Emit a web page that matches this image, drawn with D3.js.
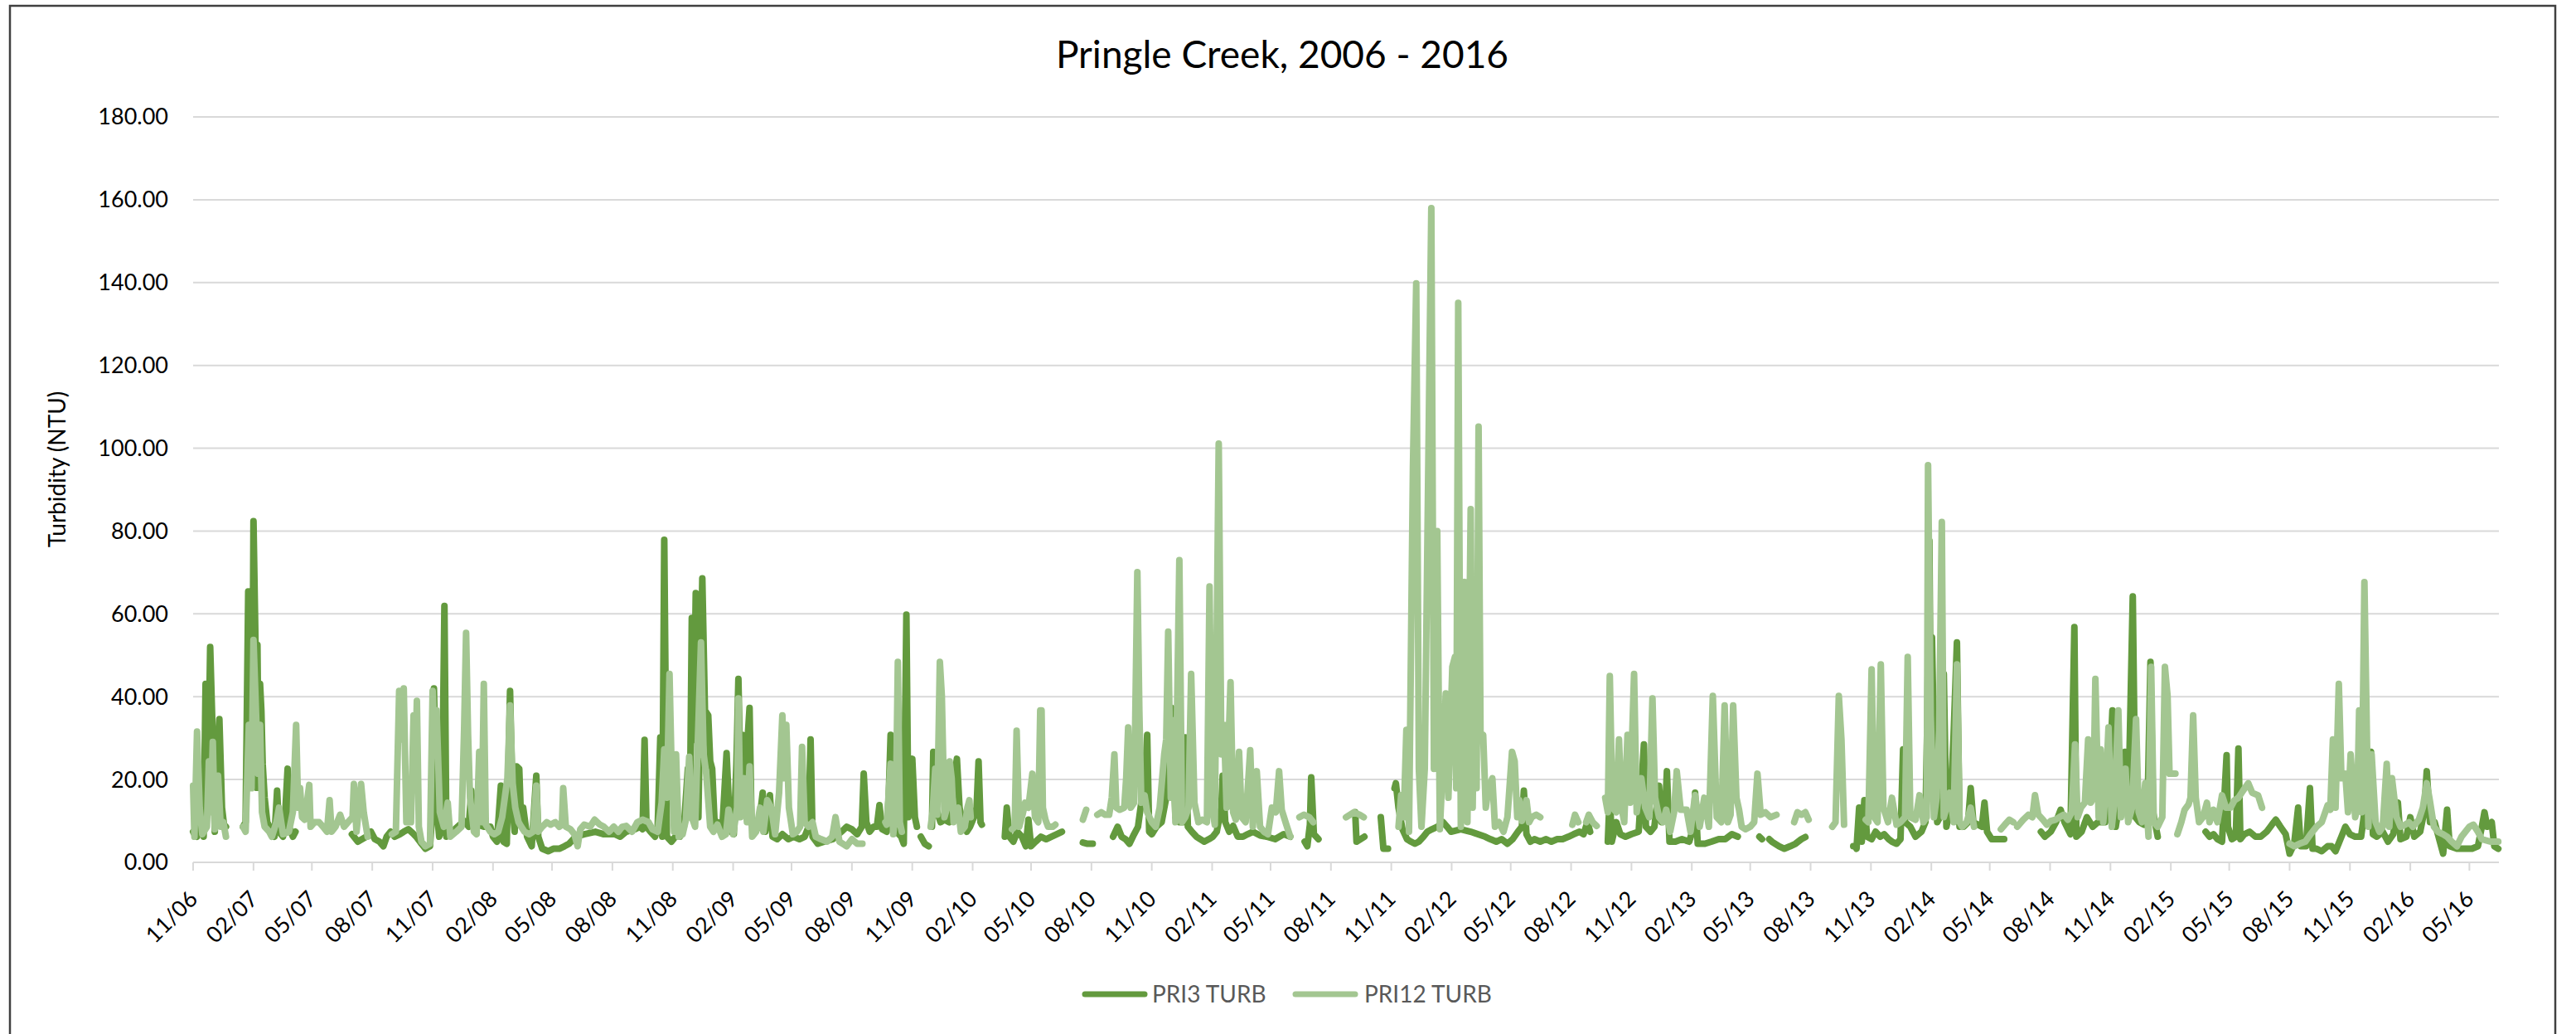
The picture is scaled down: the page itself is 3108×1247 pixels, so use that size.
<!DOCTYPE html>
<html><head><meta charset="utf-8">
<script src="https://cdn.jsdelivr.net/npm/d3@7"></script>
<style>html,body{margin:0;padding:0;background:#fff;}svg{display:block;}</style>
</head><body>
<svg id="chart" width="3108" height="1247"></svg>
<script>
const chartTitle = "Pringle Creek, 2006 - 2016";
const yAxisTitle = "Turbidity (NTU)";
const seriesNames = ["PRI3 TURB", "PRI12 TURB"];
const yTicks = [0, 20, 40, 60, 80, 100, 120, 140, 160, 180];
const xTickLabels = ["11/06","02/07","05/07","08/07","11/07","02/08","05/08","08/08","11/08","02/09","05/09","08/09","11/09","02/10","05/10","08/10","11/10","02/11","05/11","08/11","11/11","02/12","05/12","08/12","11/12","02/13","05/13","08/13","11/13","02/14","05/14","08/14","11/14","02/15","05/15","08/15","11/15","02/16","05/16"];
const xDomain = ["2006-11-01", "2016-06-15"];

// PRI3 TURB (null = no data / gap)
const pri3Turb = [
["2006-11-01",7.4],["2006-11-03",6.8],["2006-11-07",6.2],["2006-11-13",10.9],["2006-11-17",6.2],["2006-11-20",43.1],["2006-11-22",13],["2006-11-24",20],["2006-11-27",52],["2006-12-01",29.6],["2006-12-04",7.4],["2006-12-07",20.3],["2006-12-11",34.6],["2006-12-15",13.2],["2006-12-18",9.1],["2006-12-21",8.6],["2006-12-22",null],
["2007-01-16",8.6],["2007-01-20",9.7],["2007-01-24",65.4],["2007-01-27",41.4],["2007-01-30",23.8],["2007-02-01",82.4],["2007-02-04",53.1],["2007-02-06",18],["2007-02-07",52.5],["2007-02-09",18],["2007-02-11",43.1],["2007-02-13",36.7],["2007-02-15",23.8],["2007-02-18",15.6],["2007-02-22",9.7],["2007-03-01",7.4],["2007-03-05",6.2],["2007-03-09",17.3],["2007-03-12",7.4],["2007-03-18",6.2],["2007-03-21",10.9],["2007-03-25",22.6],["2007-03-27",8.6],["2007-04-02",6.2],["2007-04-06",7.4],["2007-04-08",null],
["2007-07-01",6.8],["2007-07-10",5.0],["2007-07-23",6.2],["2007-07-30",7.4],["2007-08-05",5.6],["2007-08-12",5.0],["2007-08-18",3.9],["2007-08-23",6.2],["2007-08-29",7.4],["2007-09-04",6.2],["2007-09-12",6.8],["2007-09-18",7.4],["2007-09-25",8],["2007-10-02",7],["2007-10-08",6],["2007-10-15",4.5],["2007-10-21",3.3],["2007-10-28",3.9],["2007-10-31",10.9],["2007-11-03",42],["2007-11-07",13.2],["2007-11-11",6.2],["2007-11-15",8],["2007-11-19",61.9],["2007-11-22",6.2],["2007-11-28",7],["2007-12-05",8],["2007-12-12",9],["2007-12-19",10],["2007-12-26",8.6],["2007-12-30",17.3],["2008-01-02",8.6],["2008-01-10",9],["2008-01-18",8.6],["2008-01-28",8.6],["2008-02-01",6.2],["2008-02-07",5.0],["2008-02-13",18.5],["2008-02-17",5.0],["2008-02-22",4.5],["2008-02-27",41.4],["2008-03-02",13.2],["2008-03-05",7.4],["2008-03-08",23.2],["2008-03-12",22.6],["2008-03-15",9],["2008-03-18",13.2],["2008-03-24",6.2],["2008-03-31",3.9],["2008-04-07",20.9],["2008-04-10",6.2],["2008-04-16",3.3],["2008-04-25",2.7],["2008-05-03",3.3],["2008-05-12",3.3],["2008-05-20",3.9],["2008-05-27",4.5],["2008-06-06",6.2],["2008-06-19",6.8],["2008-07-06",7.4],["2008-07-19",6.8],["2008-08-05",6.8],["2008-08-13",6.2],["2008-08-22",7.4],["2008-09-04",8],["2008-09-12",8.6],["2008-09-16",8],["2008-09-19",29.6],["2008-09-22",8.6],["2008-09-28",7.4],["2008-10-05",6.2],["2008-10-09",8.6],["2008-10-13",30.2],["2008-10-16",6.2],["2008-10-19",77.9],["2008-10-23",6.2],["2008-10-30",5],["2008-11-05",6.2],["2008-11-12",6.2],["2008-11-18",8.6],["2008-11-24",22.6],["2008-11-27",10.9],["2008-11-30",59],["2008-12-03",29.6],["2008-12-06",65],["2008-12-10",10.9],["2008-12-16",68.6],["2008-12-20",36.7],["2008-12-25",35.5],["2008-12-28",24.4],["2008-12-31",22.6],["2009-01-04",8.6],["2009-01-08",9.7],["2009-01-15",6.8],["2009-01-22",26.4],["2009-01-25",15.6],["2009-01-29",7.4],["2009-02-02",6.8],["2009-02-06",23.8],["2009-02-09",44.3],["2009-02-12",20.3],["2009-02-15",30.8],["2009-02-20",12.1],["2009-02-23",29.7],["2009-02-26",37.3],["2009-03-01",9.7],["2009-03-06",7.4],["2009-03-12",8.6],["2009-03-18",16.8],["2009-03-22",7.4],["2009-03-26",12.1],["2009-03-29",16.2],["2009-04-02",6.2],["2009-04-09",5.6],["2009-04-17",6.8],["2009-04-26",5.6],["2009-05-04",6.2],["2009-05-13",5.6],["2009-05-21",6.2],["2009-05-27",8.6],["2009-05-30",29.7],["2009-06-02",6.2],["2009-06-10",4.5],["2009-06-20",5],["2009-07-03",5.6],["2009-07-16",7.4],["2009-07-24",8.6],["2009-08-01",8],["2009-08-09",6.8],["2009-08-16",8.6],["2009-08-19",21.4],["2009-08-23",9.7],["2009-08-28",7.4],["2009-09-03",8.6],["2009-09-08",8.6],["2009-09-12",13.8],["2009-09-16",8],["2009-09-23",7.4],["2009-09-26",15.6],["2009-09-29",30.8],["2009-10-02",8.6],["2009-10-08",7.4],["2009-10-15",6.2],["2009-10-19",4.5],["2009-10-23",59.8],["2009-10-26",10.9],["2009-10-29",21.4],["2009-11-01",25],["2009-11-05",10.9],["2009-11-08",8.6],["2009-11-10",null],
["2009-11-14",6.2],["2009-11-20",4.5],["2009-11-26",3.9],["2009-11-28",null],
["2009-12-01",8.6],["2009-12-03",26.7],["2009-12-07",13.2],["2009-12-14",9.7],["2009-12-20",10.3],["2009-12-27",9.7],["2010-01-02",17.9],["2010-01-08",25],["2010-01-12",13.2],["2010-01-17",9.7],["2010-01-23",7.4],["2010-01-28",8.6],["2010-02-03",10.9],["2010-02-07",13.2],["2010-02-10",24.4],["2010-02-13",9.7],["2010-02-15",9.1],["2010-02-17",null],
["2010-03-22",6.2],["2010-03-25",13.2],["2010-03-29",6.2],["2010-04-04",5],["2010-04-10",7.4],["2010-04-17",6.2],["2010-04-23",3.9],["2010-04-27",10.3],["2010-05-01",3.9],["2010-05-08",5],["2010-05-16",6.2],["2010-05-24",5.6],["2010-06-01",6.2],["2010-06-09",6.8],["2010-06-17",7.4],["2010-06-19",null],
["2010-07-19",4.8],["2010-07-26",4.5],["2010-08-03",4.5],["2010-08-05",null],
["2010-09-03",6.2],["2010-09-10",8.6],["2010-09-16",6.2],["2010-09-22",5.6],["2010-09-28",4.5],["2010-10-05",6.8],["2010-10-11",8.6],["2010-10-17",15.6],["2010-10-21",17.9],["2010-10-25",30.8],["2010-10-28",7.4],["2010-11-01",6.8],["2010-11-08",8.6],["2010-11-16",9.7],["2010-11-23",15.6],["2010-11-27",26.1],["2010-12-01",37.3],["2010-12-07",10.9],["2010-12-12",9.7],["2010-12-18",9.7],["2010-12-22",30.2],["2010-12-26",8.6],["2011-01-01",7.4],["2011-01-08",6.2],["2011-01-14",5.6],["2011-01-20",5],["2011-01-27",5.6],["2011-02-02",6.2],["2011-02-08",7.4],["2011-02-15",13.2],["2011-02-17",20.9],["2011-02-21",9.7],["2011-02-27",7.4],["2011-03-05",8.8],["2011-03-12",6.2],["2011-03-20",6.2],["2011-03-27",6.8],["2011-04-04",7.4],["2011-04-15",6.5],["2011-04-25",6.2],["2011-05-08",5.6],["2011-05-21",6.8],["2011-05-31",6.2],["2011-06-02",null],
["2011-06-22",5],["2011-06-26",3.9],["2011-06-30",9.1],["2011-07-02",20.5],["2011-07-06",6.8],["2011-07-13",5.6],["2011-07-15",null],
["2011-09-07",12.1],["2011-09-09",5],["2011-09-15",5.6],["2011-09-21",6.2],["2011-09-23",null],
["2011-10-16",10.9],["2011-10-20",3.3],["2011-10-27",3.3],["2011-10-29",null],
["2011-11-06",17.9],["2011-11-08",19.1],["2011-11-12",13.2],["2011-11-18",8],["2011-11-25",5.6],["2011-12-01",5],["2011-12-07",4.5],["2011-12-13",5],["2011-12-20",6.2],["2011-12-26",7.4],["2012-01-02",8],["2012-01-10",8.6],["2012-01-19",9.7],["2012-01-25",8.6],["2012-01-31",7.4],["2012-02-15",8],["2012-03-01",7.4],["2012-03-23",6.2],["2012-03-31",5.6],["2012-04-09",5],["2012-04-17",5.6],["2012-04-26",4.5],["2012-05-04",5.6],["2012-05-12",7.4],["2012-05-18",8.6],["2012-05-21",17.3],["2012-05-25",6.8],["2012-05-31",5],["2012-06-06",5.6],["2012-06-15",5],["2012-06-24",5.6],["2012-07-02",5],["2012-07-11",5.6],["2012-07-19",5.6],["2012-07-28",6.2],["2012-08-05",6.8],["2012-08-14",7.4],["2012-08-20",6.8],["2012-08-26",9.7],["2012-08-30",7.4],["2012-09-01",null],
["2012-09-26",5],["2012-09-29",16.8],["2012-10-02",5],["2012-10-09",9.7],["2012-10-15",6.8],["2012-10-23",6.2],["2012-11-01",6.8],["2012-11-12",7.4],["2012-11-17",20.3],["2012-11-20",28.5],["2012-11-23",8.6],["2012-11-30",7.4],["2012-12-06",8.6],["2012-12-13",18.5],["2012-12-17",9.7],["2012-12-22",10.9],["2012-12-25",22],["2012-12-29",5],["2013-01-07",5],["2013-01-17",5.6],["2013-01-28",5],["2013-02-04",8.6],["2013-02-06",16.8],["2013-02-10",4.5],["2013-02-21",4.5],["2013-03-03",5],["2013-03-14",5.6],["2013-03-24",5.6],["2013-04-03",6.8],["2013-04-12",6.2],["2013-04-14",null],
["2013-05-15",6.2],["2013-05-19",5.6],["2013-05-21",null],
["2013-05-30",5.6],["2013-06-03",5],["2013-06-14",3.9],["2013-06-22",3.3],["2013-07-01",3.9],["2013-07-09",4.5],["2013-07-18",5.6],["2013-07-24",6.1],["2013-07-26",null],
["2013-10-05",3.9],["2013-10-08",3.9],["2013-10-10",3.3],["2013-10-14",13.2],["2013-10-18",5],["2013-10-22",15],["2013-10-26",6.2],["2013-11-02",5.6],["2013-11-08",7.4],["2013-11-15",6.2],["2013-11-21",6.8],["2013-11-28",5.6],["2013-12-03",5],["2013-12-10",4.5],["2013-12-16",5.6],["2013-12-20",27.3],["2013-12-23",9.7],["2013-12-31",8.6],["2014-01-08",6.2],["2014-01-17",7.4],["2014-01-23",9.7],["2014-01-26",35.5],["2014-01-29",77.7],["2014-01-31",35.5],["2014-02-02",54.3],["2014-02-06",19.1],["2014-02-10",9.7],["2014-02-14",10.9],["2014-02-20",45.5],["2014-02-24",8.6],["2014-03-02",13.2],["2014-03-07",30.8],["2014-03-12",53.1],["2014-03-16",8.6],["2014-03-22",8.6],["2014-03-29",9.7],["2014-04-02",17.9],["2014-04-06",9.7],["2014-04-13",9.1],["2014-04-19",8.6],["2014-04-23",14.4],["2014-04-27",7.4],["2014-05-04",5.6],["2014-05-12",5.6],["2014-05-23",5.6],["2014-05-25",null],
["2014-07-18",7.4],["2014-07-24",6.2],["2014-08-02",7.4],["2014-08-10",9.7],["2014-08-17",12.7],["2014-08-23",9.7],["2014-09-01",6.8],["2014-09-07",56.8],["2014-09-10",6.2],["2014-09-18",7.4],["2014-09-26",10.9],["2014-10-05",8.6],["2014-10-13",9.7],["2014-10-24",9.7],["2014-10-30",17.9],["2014-11-04",36.7],["2014-11-09",8.6],["2014-11-16",15.6],["2014-11-23",26.7],["2014-11-28",10.9],["2014-12-05",64.2],["2014-12-09",10.9],["2014-12-15",9.7],["2014-12-22",9.1],["2014-12-28",16.8],["2015-01-01",48.4],["2015-01-05",12.1],["2015-01-12",6.2],["2015-01-14",null],
["2015-03-26",7.4],["2015-04-01",6.2],["2015-04-07",6.8],["2015-04-13",5.6],["2015-04-20",5],["2015-04-27",25.9],["2015-04-29",8.6],["2015-05-05",5.6],["2015-05-11",6.2],["2015-05-15",27.5],["2015-05-18",5.6],["2015-05-24",6.8],["2015-06-01",7.4],["2015-06-10",6.2],["2015-06-18",6.2],["2015-06-27",7.4],["2015-07-05",9.1],["2015-07-11",10.3],["2015-07-18",8.6],["2015-07-26",6.8],["2015-08-01",2.1],["2015-08-08",4.5],["2015-08-14",13.2],["2015-08-18",3.9],["2015-08-26",3.9],["2015-09-01",17.9],["2015-09-05",3.3],["2015-09-11",3.3],["2015-09-19",2.7],["2015-09-28",3.9],["2015-10-04",3.9],["2015-10-10",2.7],["2015-10-19",6.2],["2015-10-25",8.6],["2015-11-01",6.8],["2015-11-09",6.2],["2015-11-18",6.2],["2015-11-26",15.6],["2015-12-03",26.7],["2015-12-06",6.8],["2015-12-12",6.2],["2015-12-21",7.4],["2015-12-29",5],["2016-01-06",6.8],["2016-01-13",14.4],["2016-01-17",5.6],["2016-01-26",6.2],["2016-02-01",10.9],["2016-02-07",6.2],["2016-02-16",7.4],["2016-02-22",12.1],["2016-02-26",22],["2016-03-02",9.7],["2016-03-09",9.7],["2016-03-15",6.2],["2016-03-22",2.1],["2016-03-28",12.7],["2016-04-01",3.9],["2016-04-12",3.3],["2016-04-25",3.3],["2016-05-05",3.3],["2016-05-14",3.9],["2016-05-20",8.6],["2016-05-24",12.1],["2016-05-28",8.6],["2016-06-04",9.7],["2016-06-08",3.9],["2016-06-14",3.3]
];

// PRI12 TURB (null = no data / gap)
const pri12Turb = [
["2006-11-01",18.5],["2006-11-03",6.2],["2006-11-07",31.6],["2006-11-11",13.2],["2006-11-15",6.8],["2006-11-22",8.6],["2006-11-25",24.4],["2006-11-28",12.1],["2006-12-01",29.1],["2006-12-04",8],["2006-12-09",20.9],["2006-12-13",8.6],["2006-12-17",9.7],["2006-12-21",6.2],["2006-12-22",null],
["2007-01-16",8.6],["2007-01-20",7.4],["2007-01-25",33.2],["2007-01-29",17.9],["2007-02-01",53.7],["2007-02-05",35.5],["2007-02-08",21.4],["2007-02-11",33.2],["2007-02-14",12.1],["2007-02-18",8.6],["2007-02-25",7.4],["2007-03-01",6.2],["2007-03-08",9.7],["2007-03-12",13.2],["2007-03-18",6.8],["2007-03-27",7.4],["2007-04-02",12.1],["2007-04-07",33.2],["2007-04-10",13.2],["2007-04-13",17.9],["2007-04-16",10.9],["2007-04-20",10.3],["2007-04-27",18.7],["2007-04-29",8.6],["2007-05-05",9.7],["2007-05-12",9.7],["2007-05-18",8.6],["2007-05-24",7.4],["2007-05-28",15],["2007-05-31",7.4],["2007-06-06",8.6],["2007-06-13",11.5],["2007-06-19",8.6],["2007-06-25",9.7],["2007-07-02",10.9],["2007-07-04",18.9],["2007-07-08",7.4],["2007-07-15",18.9],["2007-07-19",12.1],["2007-07-25",6.2],["2007-07-27",null],
["2007-08-31",6.8],["2007-09-06",7.4],["2007-09-11",41.4],["2007-09-15",29.7],["2007-09-18",42],["2007-09-22",9.7],["2007-09-29",9.7],["2007-10-03",35.5],["2007-10-05",19.1],["2007-10-08",39],["2007-10-11",8.6],["2007-10-15",5],["2007-10-21",3.9],["2007-10-28",4.5],["2007-11-01",41.4],["2007-11-04",29.7],["2007-11-07",36.7],["2007-11-12",12.1],["2007-11-18",8.6],["2007-11-24",14.4],["2007-11-28",6.2],["2007-12-07",7.4],["2007-12-15",8.6],["2007-12-19",32],["2007-12-22",55.4],["2007-12-25",30.8],["2007-12-28",15.6],["2008-01-03",7.4],["2008-01-07",6.8],["2008-01-11",26.7],["2008-01-15",9.7],["2008-01-18",43.1],["2008-01-21",9.1],["2008-01-28",7.4],["2008-02-03",6.8],["2008-02-09",7.4],["2008-02-15",10.9],["2008-02-19",15.6],["2008-02-23",20.3],["2008-02-27",37.9],["2008-03-02",19.1],["2008-03-06",13.2],["2008-03-11",9.7],["2008-03-15",8.6],["2008-03-20",7.4],["2008-03-27",6.8],["2008-04-02",7.4],["2008-04-07",18.5],["2008-04-10",7.4],["2008-04-16",8.6],["2008-04-23",9.7],["2008-04-29",9.1],["2008-05-06",9.7],["2008-05-12",8.6],["2008-05-16",9.1],["2008-05-18",17.9],["2008-05-22",8.6],["2008-05-29",8],["2008-06-04",6.8],["2008-06-09",3.9],["2008-06-13",8],["2008-06-19",9.1],["2008-06-28",8.6],["2008-07-05",10.3],["2008-07-13",9.1],["2008-07-19",8.6],["2008-07-27",7.4],["2008-08-03",8.6],["2008-08-10",7.4],["2008-08-16",8.6],["2008-08-22",8.8],["2008-08-31",7.4],["2008-09-08",9.7],["2008-09-16",10.3],["2008-09-25",9.7],["2008-10-01",8],["2008-10-09",7.4],["2008-10-15",14.4],["2008-10-19",27.3],["2008-10-23",15.6],["2008-10-27",45.5],["2008-10-30",23.8],["2008-11-03",7.4],["2008-11-06",26.1],["2008-11-10",6.2],["2008-11-16",6.8],["2008-11-21",10.3],["2008-11-26",25.5],["2008-11-30",10.9],["2008-12-05",8.6],["2008-12-10",33.2],["2008-12-14",53.1],["2008-12-18",26.1],["2008-12-22",21.4],["2008-12-28",8.6],["2009-01-02",7.4],["2009-01-08",9.1],["2009-01-15",6.2],["2009-01-21",6.8],["2009-01-25",12.7],["2009-02-01",6.8],["2009-02-07",13.2],["2009-02-09",39.6],["2009-02-12",10.9],["2009-02-18",20.3],["2009-02-22",9.7],["2009-02-26",23.2],["2009-03-02",6.2],["2009-03-08",7.4],["2009-03-14",13.2],["2009-03-19",7.4],["2009-03-25",15],["2009-03-31",13.2],["2009-04-06",6.8],["2009-04-12",16.8],["2009-04-17",35.5],["2009-04-20",20.3],["2009-04-23",33.2],["2009-04-27",13.2],["2009-05-03",6.8],["2009-05-09",7.4],["2009-05-14",8.6],["2009-05-17",27.9],["2009-05-21",9.7],["2009-05-27",8.6],["2009-06-02",9.7],["2009-06-07",6.2],["2009-06-15",5.6],["2009-06-24",5],["2009-07-02",6.2],["2009-07-07",10.9],["2009-07-13",5],["2009-07-24",3.9],["2009-08-01",5.6],["2009-08-09",4.5],["2009-08-17",4.5],["2009-08-19",null],
["2009-09-21",9.7],["2009-09-23",9.1],["2009-09-29",23.8],["2009-10-03",6.8],["2009-10-07",13.2],["2009-10-10",48.4],["2009-10-13",9.7],["2009-10-16",7.4],["2009-10-18",null],
["2009-11-29",8.6],["2009-12-02",12.1],["2009-12-06",22.6],["2009-12-09",11.5],["2009-12-13",48.4],["2009-12-16",40.2],["2009-12-20",10.9],["2009-12-24",13.2],["2009-12-28",24.4],["2009-12-31",20.3],["2010-01-03",9.7],["2010-01-10",13.2],["2010-01-14",7.4],["2010-01-20",8.6],["2010-01-24",13.2],["2010-01-27",15],["2010-01-29",10.9],["2010-01-31",null],
["2010-04-02",8],["2010-04-06",8.6],["2010-04-09",31.8],["2010-04-13",8.6],["2010-04-18",11.5],["2010-04-22",14.4],["2010-04-27",13.2],["2010-05-03",21.4],["2010-05-07",10.9],["2010-05-12",9.7],["2010-05-15",36.7],["2010-05-17",36.7],["2010-05-19",13.2],["2010-05-23",10.3],["2010-05-27",8.6],["2010-06-03",8.6],["2010-06-07",9.1],["2010-06-09",null],
["2010-07-19",10.3],["2010-07-24",12.7],["2010-07-26",null],
["2010-08-10",11.5],["2010-08-16",12.1],["2010-08-22",11.5],["2010-08-28",11.5],["2010-09-01",15.6],["2010-09-05",26.1],["2010-09-08",13.2],["2010-09-13",12.7],["2010-09-20",13.2],["2010-09-23",20.3],["2010-09-26",32.6],["2010-09-30",13.2],["2010-10-05",14.4],["2010-10-10",70.1],["2010-10-13",36.7],["2010-10-16",14.4],["2010-10-21",16.2],["2010-10-25",12.1],["2010-11-01",9.7],["2010-11-07",8.6],["2010-11-13",13.2],["2010-11-20",26.1],["2010-11-23",29.7],["2010-11-26",55.7],["2010-11-30",15.6],["2010-12-04",34.3],["2010-12-07",9.7],["2010-12-13",73],["2010-12-17",9.7],["2010-12-22",10.9],["2010-12-27",13.2],["2010-12-31",45.5],["2011-01-05",14.4],["2011-01-11",9.7],["2011-01-17",10.3],["2011-01-24",9.7],["2011-01-28",66.6],["2011-02-01",13.2],["2011-02-05",9.1],["2011-02-11",101.1],["2011-02-15",26.1],["2011-02-19",33.2],["2011-02-23",13.2],["2011-03-01",43.5],["2011-03-05",12.1],["2011-03-09",10.3],["2011-03-14",26.7],["2011-03-18",10.9],["2011-03-24",9.7],["2011-03-31",27.1],["2011-04-04",8.6],["2011-04-10",22],["2011-04-15",8.6],["2011-04-21",7.4],["2011-04-27",6.8],["2011-05-03",13.2],["2011-05-09",12.1],["2011-05-14",22],["2011-05-18",12.7],["2011-05-25",9.1],["2011-05-31",6.2],["2011-06-02",null],
["2011-06-14",10.9],["2011-06-21",11.5],["2011-06-29",10.9],["2011-07-05",9.7],["2011-07-07",null],
["2011-08-24",10.9],["2011-08-30",11.5],["2011-09-05",12.1],["2011-09-14",11.5],["2011-09-20",10.9],["2011-09-22",null],
["2011-11-12",8.6],["2011-11-16",16.2],["2011-11-20",10.9],["2011-11-24",32],["2011-11-28",7.4],["2011-12-04",95.3],["2011-12-09",139.8],["2011-12-13",22.6],["2011-12-17",8.6],["2011-12-22",22.6],["2012-01-01",158],["2012-01-05",22.6],["2012-01-10",80],["2012-01-14",8],["2012-01-19",25],["2012-01-23",40.8],["2012-01-27",15.6],["2012-02-02",47.2],["2012-02-06",49.6],["2012-02-08",17.9],["2012-02-11",135.1],["2012-02-15",8.6],["2012-02-18",50.7],["2012-02-21",67.7],["2012-02-25",9.7],["2012-03-01",85.3],["2012-03-04",13.2],["2012-03-07",55.4],["2012-03-10",17.9],["2012-03-13",105.2],["2012-03-16",29.7],["2012-03-20",30.8],["2012-03-24",13.2],["2012-03-28",17.8],["2012-04-03",20.3],["2012-04-07",8.6],["2012-04-13",9.7],["2012-04-20",7.4],["2012-04-26",10.9],["2012-05-03",26.7],["2012-05-07",24.4],["2012-05-11",10.9],["2012-05-14",15],["2012-05-18",10],["2012-05-25",15],["2012-05-29",9.7],["2012-06-02",10.9],["2012-06-09",11.5],["2012-06-15",10.9],["2012-06-17",null],
["2012-08-03",9.1],["2012-08-07",11.5],["2012-08-12",9.7],["2012-08-14",null],
["2012-08-24",9.7],["2012-08-28",11.5],["2012-09-03",9.7],["2012-09-09",8.8],["2012-09-11",null],
["2012-09-22",15.6],["2012-09-26",12.1],["2012-09-29",45],["2012-10-03",13.2],["2012-10-09",12.1],["2012-10-13",29.7],["2012-10-17",13.2],["2012-10-21",9.7],["2012-10-26",30.8],["2012-10-30",14.4],["2012-11-05",45.5],["2012-11-09",12.1],["2012-11-16",20.3],["2012-11-22",13.2],["2012-11-28",10.9],["2012-12-03",39.6],["2012-12-07",15.6],["2012-12-13",10.9],["2012-12-19",9.7],["2012-12-24",12.7],["2012-12-30",7.4],["2013-01-05",12.1],["2013-01-09",22],["2013-01-15",12.7],["2013-01-24",12.7],["2013-01-30",7.4],["2013-02-06",16.2],["2013-02-13",8.6],["2013-02-20",15.6],["2013-02-27",8.6],["2013-03-05",40.2],["2013-03-11",10.9],["2013-03-18",9.7],["2013-03-23",37.9],["2013-03-28",9.7],["2013-04-01",11.5],["2013-04-05",37.9],["2013-04-10",15.6],["2013-04-14",12.7],["2013-04-18",8.6],["2013-04-24",8],["2013-05-01",8.6],["2013-05-07",9.7],["2013-05-12",21.4],["2013-05-17",11.5],["2013-05-24",12.1],["2013-06-01",10.9],["2013-06-10",11.5],["2013-06-12",null],
["2013-07-07",9.7],["2013-07-12",12.1],["2013-07-18",11.5],["2013-07-24",12.1],["2013-07-29",10.3],["2013-07-31",null],
["2013-09-03",8.6],["2013-09-08",9.7],["2013-09-13",40.2],["2013-09-17",29.7],["2013-09-21",9.1],["2013-09-23",null],
["2013-10-24",10.3],["2013-10-28",9.7],["2013-11-02",46.6],["2013-11-06",10.9],["2013-11-11",9.7],["2013-11-16",47.8],["2013-11-20",13.2],["2013-11-27",9.7],["2013-12-03",15.6],["2013-12-10",9.1],["2013-12-16",9.7],["2013-12-23",10.9],["2013-12-27",49.6],["2013-12-31",10.9],["2014-01-08",10.3],["2014-01-14",16.2],["2014-01-20",9.7],["2014-01-25",10.9],["2014-01-27",95.9],["2014-01-31",35.5],["2014-02-05",10.9],["2014-02-09",15.6],["2014-02-13",32],["2014-02-17",82.2],["2014-02-20",10.9],["2014-02-24",13.2],["2014-03-01",16.8],["2014-03-07",9.7],["2014-03-12",47.8],["2014-03-16",9.7],["2014-03-20",8.6],["2014-03-27",9.7],["2014-04-02",13.2],["2014-04-07",8.6],["2014-04-09",null],
["2014-05-18",8],["2014-05-24",9.1],["2014-05-31",10.3],["2014-06-06",9.7],["2014-06-08",null],
["2014-06-12",8.6],["2014-06-21",10.3],["2014-06-29",11.5],["2014-07-05",10.9],["2014-07-09",16.2],["2014-07-14",11.5],["2014-07-21",10.3],["2014-07-27",9.1],["2014-08-02",10],["2014-08-09",10.3],["2014-08-15",10.9],["2014-08-22",11.5],["2014-08-28",10.3],["2014-09-03",12.1],["2014-09-08",28.5],["2014-09-12",10.9],["2014-09-17",13.2],["2014-09-23",14.4],["2014-09-28",29.7],["2014-10-02",14.4],["2014-10-06",15.6],["2014-10-09",44.3],["2014-10-14",10.9],["2014-10-17",27.3],["2014-10-21",9.7],["2014-10-25",17.9],["2014-10-29",32.6],["2014-11-03",8.6],["2014-11-07",14.4],["2014-11-13",36.7],["2014-11-17",10.9],["2014-11-24",22.6],["2014-11-28",9.7],["2014-12-04",13.2],["2014-12-10",34.6],["2014-12-14",12.1],["2014-12-19",9.7],["2014-12-24",19.1],["2014-12-29",6.2],["2015-01-02",47.2],["2015-01-06",9.7],["2015-01-12",8.6],["2015-01-19",10.9],["2015-01-23",47.2],["2015-01-27",40.2],["2015-01-30",21.4],["2015-02-08",21.4],["2015-02-10",null],
["2015-02-11",6.8],["2015-02-17",9.7],["2015-02-22",12.7],["2015-02-28",14],["2015-03-03",15.6],["2015-03-07",35.5],["2015-03-11",15.6],["2015-03-16",9.7],["2015-03-22",10.9],["2015-03-28",14.4],["2015-04-01",9.7],["2015-04-07",12.7],["2015-04-13",9.7],["2015-04-20",16.2],["2015-04-26",13.2],["2015-05-03",13.2],["2015-05-09",15],["2015-05-15",15.6],["2015-05-22",17.3],["2015-05-30",19.1],["2015-06-05",16.8],["2015-06-14",16.2],["2015-06-20",13.2],["2015-06-22",null],
["2015-08-01",4.5],["2015-08-08",3.9],["2015-08-16",4.5],["2015-08-25",5],["2015-09-02",6.8],["2015-09-11",8.6],["2015-09-19",9.7],["2015-09-28",13.8],["2015-10-02",12.7],["2015-10-06",29.7],["2015-10-10",13.2],["2015-10-15",43.1],["2015-10-19",20.3],["2015-10-25",21.4],["2015-10-29",12.1],["2015-11-02",26.1],["2015-11-09",10.9],["2015-11-12",13.2],["2015-11-15",36.7],["2015-11-19",12.1],["2015-11-23",67.7],["2015-11-29",8.6],["2015-12-04",26.1],["2015-12-10",9.7],["2015-12-16",7.4],["2015-12-21",8.6],["2015-12-27",23.8],["2015-12-31",8.6],["2016-01-04",20.3],["2016-01-11",10.9],["2016-01-17",8.6],["2016-01-24",9.1],["2016-01-30",9.7],["2016-02-05",8.6],["2016-02-14",10.3],["2016-02-20",13.2],["2016-02-26",19.1],["2016-03-01",15.6],["2016-03-08",8.6],["2016-03-14",7.4],["2016-03-22",6.8],["2016-03-28",6.2],["2016-04-04",5],["2016-04-12",3.9],["2016-04-19",6.2],["2016-04-25",7.4],["2016-05-01",8.6],["2016-05-07",9.1],["2016-05-14",7.4],["2016-05-20",5.6],["2016-06-02",5],["2016-06-14",5]
];

const seriesColors = ["#639a3e", "#a3c691"];

const svg = d3.select("#chart");
const W = 3108, H = 1247;
const parseDay = d3.utcParse("%Y-%m-%d");
const parseTick = d3.utcParse("%m/%y");

svg.append("rect").attr("x", 0).attr("y", 0).attr("width", W).attr("height", H).attr("fill", "#fff");
svg.append("rect").attr("x", 12).attr("y", 7).attr("width", 3083 - 12).attr("height", H + 20)
  .attr("fill", "none").attr("stroke", "#404040").attr("stroke-width", 2.5);

const x = d3.scaleUtc().domain(xDomain.map(parseDay)).range([233, 3015]);
const y = d3.scaleLinear().domain([0, 180]).range([1040, 141]);

// gridlines
svg.append("g").selectAll("line").data(yTicks).join("line")
  .attr("x1", x.range()[0]).attr("x2", x.range()[1])
  .attr("y1", d => y(d)).attr("y2", d => y(d))
  .attr("stroke", "#d9d9d9").attr("stroke-width", 2);

// y labels
svg.append("g").selectAll("text").data(yTicks).join("text")
  .attr("x", 203).attr("y", d => y(d)).attr("dy", "0.35em")
  .attr("text-anchor", "end").attr("font-family", "Lato, sans-serif").attr("font-size", 27).attr("fill", "#000")
  .text(d => d.toFixed(2));

// x axis ticks + labels
const xTicks = xTickLabels.map(parseTick);
const xg = svg.append("g");
xg.selectAll("line").data(xTicks).join("line")
  .attr("x1", d => x(d)).attr("x2", d => x(d)).attr("y1", 1040).attr("y2", 1050)
  .attr("stroke", "#d9d9d9").attr("stroke-width", 2);
xg.selectAll("text").data(xTickLabels).join("text")
  .attr("transform", (d, i) => `translate(${x(xTicks[i]) + 7},1086) rotate(-45)`)
  .attr("text-anchor", "end").attr("font-family", "Lato, sans-serif").attr("font-size", 27).attr("fill", "#000")
  .text(d => d);

// series lines
const toPts = arr => arr.map(d => ({date: parseDay(d[0]), v: d[1]}));
const line = d3.line().defined(d => d.v != null).x(d => x(d.date)).y(d => y(d.v));
[pri3Turb, pri12Turb].forEach((s, i) => {
  svg.append("path").datum(toPts(s)).attr("d", line)
    .attr("fill", "none").attr("stroke", seriesColors[i]).attr("stroke-width", 8)
    .attr("stroke-linejoin", "round").attr("stroke-linecap", "round");
});

// title
svg.append("text").attr("x", 1547).attr("y", 82).attr("text-anchor", "middle")
  .attr("font-family", "Lato, sans-serif").attr("font-size", 46).attr("fill", "#000").text(chartTitle);

// y axis title
svg.append("text").attr("transform", "translate(79,566) rotate(-90)").attr("text-anchor", "middle")
  .attr("font-family", "Lato, sans-serif").attr("font-size", 28).attr("fill", "#000").text(yAxisTitle);

// legend
const legendPos = [{lx: 1309, tx: 1390}, {lx: 1563, tx: 1646}];
const lg = svg.append("g");
seriesNames.forEach((name, i) => {
  lg.append("line").attr("x1", legendPos[i].lx).attr("x2", legendPos[i].lx + 72).attr("y1", 1199).attr("y2", 1199)
    .attr("stroke", seriesColors[i]).attr("stroke-width", 7).attr("stroke-linecap", "round");
  lg.append("text").attr("x", legendPos[i].tx).attr("y", 1199).attr("dy", "0.36em")
    .attr("font-family", "Lato, sans-serif").attr("font-size", 28).attr("fill", "#595959").text(name);
});
</script>
</body></html>
